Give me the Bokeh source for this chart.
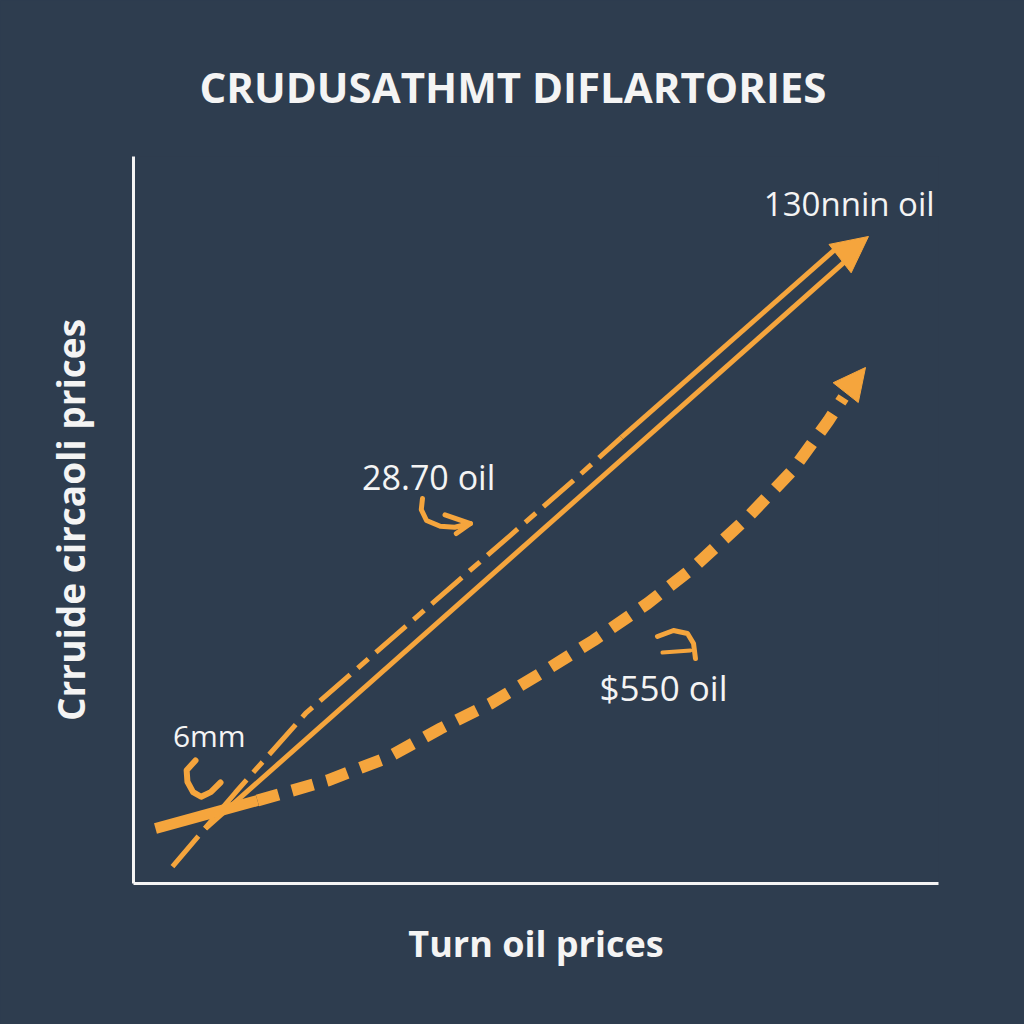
from bokeh.plotting import figure
from bokeh.models import Range1d, FixedTicker, Arrow, NormalHead, Title
from bokeh.core.properties import value
from bokeh.embed import file_html
from bokeh.resources import INLINE

BG = "#2E3D4F"
ORANGE = "#F5A53D"
WHITE = "#F4F4F4"
FONT = "Open Sans"

# ---- texts ----
title_text = "CRUDUSATHMT DIFLARTORIES"
x_label = "Turn oil prices"
y_label = "Crruide circaoli prices"

# ---- series (x: time units 0-100, y: price 0-140) ----
solid_x = [8.94, 88.82]
solid_y = [10.59, 120.36]
solid_head_x = [88.57, 91.30]
solid_head_y = [121.30, 124.60]

dashdot_x = [4.84, 12.67, 21.37, 54.66, 60.62]
dashdot_y = [3.27, 17.52, 32.74, 77.61, 85.89]
upper_solid_x = [60.62, 87.70]
upper_solid_y = [85.89, 122.86]

curve_x = [2.73, 15.40, 24.10, 31.55, 38.14, 44.35, 50.56, 57.14, 63.85, 69.57, 76.27, 81.86, 86.34, 88.20]
curve_y = [10.59, 15.98, 19.83, 24.26, 29.85, 34.66, 40.44, 46.80, 53.92, 60.85, 70.48, 79.53, 89.16, 93.59]
curve_head_x = [89.07, 90.93]
curve_head_y = [95.71, 99.37]

# small annotation arrows
ann1_x = [35.90, 35.75, 36.40, 38.10, 39.90, 41.86]
ann1_y = [74.14, 72.00, 69.90, 68.80, 68.60, 69.32]
ann1_tip_x = [38.70, 41.86, 40.10]
ann1_tip_y = [71.00, 69.32, 67.40]

ann2_x = [65.09, 67.08, 68.82, 69.57, 69.81]
ann2_y = [47.57, 48.72, 48.14, 46.22, 43.33]
ann2_tail_x = [65.71, 69.19]
ann2_tail_y = [44.48, 44.87]

ann3_x = [7.70, 6.60, 6.70, 7.40, 8.40, 9.60, 10.81]
ann3_y = [23.69, 21.80, 19.60, 17.60, 16.70, 17.60, 19.45]

# labels
label_text = ["130nnin oil", "28.70 oil", "$550 oil", "6mm"]
label_x = [78.30, 28.40, 57.90, 4.90]
label_y = [131.0, 78.30, 37.70, 28.50]
label_size = ["33px", "34px", "35px", "30px"]

p = figure(width=1024, height=1024, output_backend="svg", toolbar_location=None,
           x_range=Range1d(0, 100), y_range=Range1d(0, 140),
           min_border_left=133, min_border_right=86, min_border_top=156, min_border_bottom=141)
p.styles = {"background-color": BG}
p.background_fill_color = BG
p.border_fill_color = BG
p.outline_line_color = None
p.outline_line_alpha = 0
p.outline_line_width = 0
p.grid.visible = False

p.add_layout(Title(text=title_text, align="left", offset=66, standoff=83,
                   text_font=FONT, text_font_size="42px", text_font_style="bold",
                   text_color=WHITE), "above")

for ax in (p.xaxis[0], p.yaxis[0]):
    ax.ticker = FixedTicker(ticks=[])
    ax.major_tick_out = 0
    ax.major_tick_in = 0
    ax.minor_tick_out = 0
    ax.minor_tick_in = 0
    ax.major_label_standoff = 0
    ax.axis_line_color = WHITE
    ax.axis_line_width = 3
    ax.axis_label_text_color = WHITE
    ax.axis_label_text_font = FONT
    ax.axis_label_text_font_style = "bold"
p.xaxis.axis_label = x_label
p.yaxis.axis_label = y_label
p.xaxis.axis_label_text_font_size = "36px"
p.yaxis.axis_label_text_font_size = "37px"
p.xaxis.axis_label_standoff = 35
p.yaxis.axis_label_standoff = 38

# lines
p.line(solid_x, solid_y, line_color=ORANGE, line_width=5)
p.line(dashdot_x, dashdot_y, line_color=ORANGE, line_width=5, line_dash="40 10 14 10")
p.line(upper_solid_x, upper_solid_y, line_color=ORANGE, line_width=5)
p.line(curve_x[:2], curve_y[:2], line_color=ORANGE, line_width=11)
p.line(curve_x[1:], curve_y[1:], line_color=ORANGE, line_width=12, line_dash="22 14")

p.add_layout(Arrow(end=NormalHead(size=36, fill_color=ORANGE, line_color=ORANGE),
                   x_start=solid_head_x[0], y_start=solid_head_y[0],
                   x_end=solid_head_x[1], y_end=solid_head_y[1], line_alpha=0))
p.add_layout(Arrow(end=NormalHead(size=32, fill_color=ORANGE, line_color=ORANGE),
                   x_start=curve_head_x[0], y_start=curve_head_y[0],
                   x_end=curve_head_x[1], y_end=curve_head_y[1], line_alpha=0))

p.line(ann1_x, ann1_y, line_color=ORANGE, line_width=5, line_cap="round", line_join="round")
p.line(ann1_tip_x, ann1_tip_y, line_color=ORANGE, line_width=5, line_cap="round", line_join="round")
p.line(ann2_x, ann2_y, line_color=ORANGE, line_width=5, line_cap="round", line_join="round")
p.line(ann2_tail_x, ann2_tail_y, line_color=ORANGE, line_width=4, line_cap="round")
p.line(ann3_x, ann3_y, line_color=ORANGE, line_width=6, line_cap="round", line_join="round")

for t, x, y, s in zip(label_text, label_x, label_y, label_size):
    p.text(x=[x], y=[y], text=[t], text_font=value(FONT), text_font_size=s,
           text_color=WHITE, text_align="left", text_baseline="alphabetic")

open("out.html", "w").write(file_html(p, INLINE))
